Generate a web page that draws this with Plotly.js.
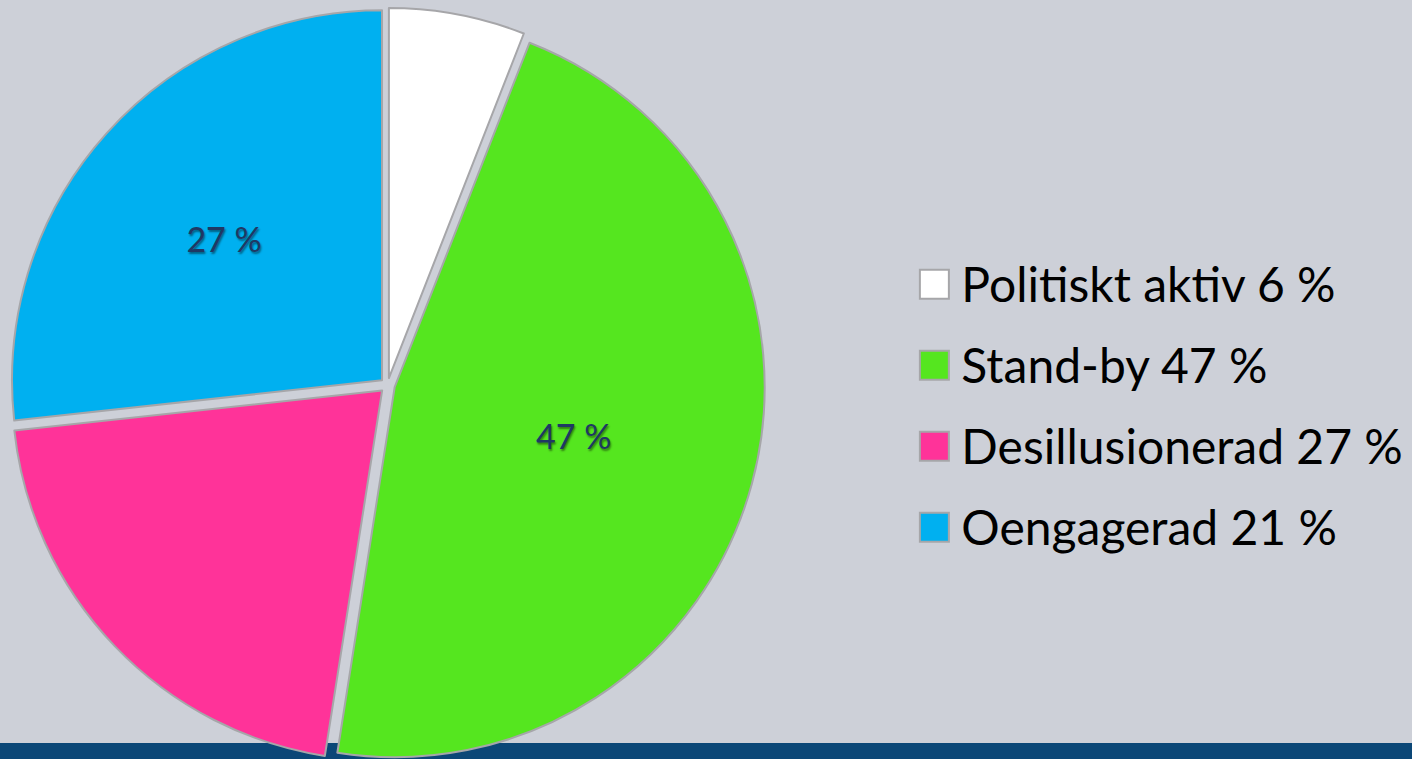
<!DOCTYPE html>
<html>
<head>
<meta charset="utf-8">
<script src="https://cdn.plot.ly/plotly-3.0.1.min.js"></script>
<style>
html,body{margin:0;padding:0;overflow:hidden;background:#cdd0d8;}
#chart{width:1412px;height:766px;}
</style>
</head>
<body>
<div id="chart"></div>
<script>
// Data
const categories = ['Politiskt aktiv 6 %', 'Stand-by 47 %', 'Desillusionerad 27 %', 'Oengagerad 21 %'];
const values = [6, 47, 21, 27];
const sliceLabels = ['', '47 %', '', '27 %'];
const sliceColors = ['#ffffff', '#55e61f', '#ff3399', '#00b0f0'];

const legendLabels = categories.map(c => '<span style="font-size:48px">' + c + '</span>');

const trace = {
  type: 'pie',
  labels: legendLabels,
  values: values,
  text: sliceLabels,
  textinfo: 'text',
  textposition: 'inside',
  insidetextorientation: 'horizontal',
  textfont: {family: 'Lato, sans-serif', size: 34, color: '#1f3864', shadow: '1px 2px 2px rgba(0,0,0,0.45)'},
  sort: false,
  direction: 'clockwise',
  rotation: 0,
  pull: 0.02,
  marker: {colors: sliceColors, line: {color: '#a6a6a9', width: 2}},
  domain: {x: [0, 0.5489], y: [0.0043, 0.9897]},
  hoverinfo: 'skip'
};

const layout = {
  width: 1412,
  height: 766,
  margin: {l: 0, r: 0, t: 0, b: 0},
  paper_bgcolor: '#cdd0d8',
  plot_bgcolor: '#cdd0d8',
  showlegend: true,
  legend: {
    x: 0.6412, xanchor: 'left',
    y: 0.478, yanchor: 'middle',
    itemwidth: 46,
    bgcolor: 'rgba(0,0,0,0)',
    font: {family: 'Lato, sans-serif', size: 60, color: '#000000'}
  },
  shapes: [{
    type: 'rect', xref: 'paper', yref: 'paper',
    x0: 0, x1: 1, y0: 0, y1: 0.030,
    fillcolor: '#0b4777', line: {width: 0}, layer: 'below'
  }]
};

Plotly.newPlot('chart', [trace], layout, {displayModeBar: false, staticPlot: true}).then(() => {
  document.querySelectorAll('.legend [clip-path]').forEach(el => el.removeAttribute('clip-path'));
  document.querySelectorAll('.legend .legendpoints path').forEach(p => {
    p.setAttribute('d', 'M14.5,14.5H-14.5V-14.5H14.5Z');
    p.setAttribute('transform', 'translate(29,6)');
    p.style.strokeWidth = '2px';
  });
});
</script>
</body>
</html>
